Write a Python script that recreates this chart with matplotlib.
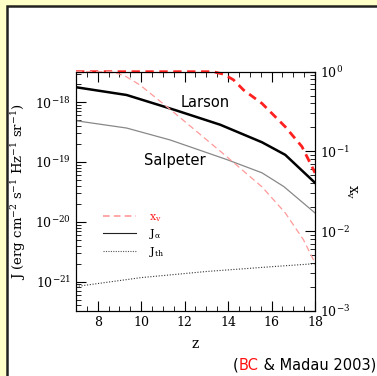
import numpy as np
import matplotlib
matplotlib.use("Agg")
import matplotlib.pyplot as plt
from matplotlib.patches import Rectangle
from matplotlib.ticker import LogLocator, MultipleLocator, NullFormatter

plt.rcParams["font.family"] = "DejaVu Serif"
plt.rcParams["mathtext.fontset"] = "dejavuserif"

# Lyman-alpha background J_alpha (Larson / Salpeter IMF)
z_lar = [7.0, 9.33, 11.56, 13.64, 15.56, 16.63, 18.0]
J_lar = [1.78e-18, 1.32e-18, 7.4e-19, 4.2e-19, 2.14e-19, 1.32e-19, 4.5e-20]
z_sal = [7.0, 9.33, 11.33, 13.94, 15.56, 16.56, 18.0]
J_sal = [4.9e-19, 3.7e-19, 2.34e-19, 1.10e-19, 6.6e-20, 3.9e-20, 1.41e-20]
# thermalization value J_th
z_th = [7.0, 10.0, 13.0, 16.0, 18.0]
J_th = [8.3e-22, 1.17e-21, 1.48e-21, 1.78e-21, 2.0e-21]
# neutral fraction x_v (right axis)
zx_lar = [7.0, 13.3, 13.8, 14.25, 14.71, 15.56, 16.63, 17.4, 18.0]
x_lar = [1.0, 1.0, 0.93, 0.79, 0.59, 0.40, 0.204, 0.115, 0.054]
zx_sal = [7.0, 8.7, 9.3, 9.95, 11.56, 13.94, 15.56, 16.63, 17.47, 18.0]
x_sal = [1.0, 1.0, 0.87, 0.68, 0.30, 0.086, 0.036, 0.017, 0.0078, 0.0040]

fig = plt.figure(figsize=(3.77, 3.76), dpi=100)
fig.patch.set_facecolor("#ffffc8")
fig.patches.append(Rectangle((6.5 / 377, -0.1), 1.2, 1.1 - 5.5 / 376,
                             transform=fig.transFigure, facecolor="white",
                             edgecolor="#222222", lw=1.8, zorder=-10))

ax = fig.add_axes([76 / 377, 1 - 311 / 376, 239 / 377, 239.3 / 376])
ax.set_facecolor("none")
ax2 = ax.twinx()

ax.set_yscale("log")
ax.set_xlim(7, 18)
ax.set_ylim(10 ** -21.49, 10 ** -17.49)
ax2.set_yscale("log")
ax2.set_ylim(1e-3, 1.0)

ax.plot(z_lar, J_lar, color="black", lw=1.8)
ax.plot(z_sal, J_sal, color="#888888", lw=0.9)
ax.plot(z_th, J_th, color="#333333", lw=0.8, ls=(0, (1, 1.5)))
ax2.plot(zx_lar, x_lar, color="#ff2020", lw=2, ls=(0, (3, 2)), clip_on=False)
ax2.plot(zx_sal, x_sal, color="#ff9999", lw=0.9, ls=(0, (5, 3)), clip_on=False)

ax.text(12.94, 1.0e-18, "Larson", family="DejaVu Sans", fontsize=10.5,
        ha="center", va="center")
ax.text(11.56, 1.05e-19, "Salpeter", family="DejaVu Sans", fontsize=10.5,
        ha="center", va="center")

# legend
h1, = ax.plot([], [], color="#ff9999", lw=1.2, ls=(0, (4, 2.5)))
h2, = ax.plot([], [], color="#222222", lw=0.8)
h3, = ax.plot([], [], color="#555555", lw=0.8, ls=(0, (1, 1.2)))
leg = ax.legend([h1, h2, h3], [r"$\mathrm{x_v}$", r"$\mathrm{J_\alpha}$", r"$\mathrm{J_{th}}$"],
                loc="upper left", bbox_to_anchor=(0.07, 0.456), frameon=False,
                handlelength=3.0, labelspacing=0.35, fontsize=8, handletextpad=1.2)
for t, c in zip(leg.get_texts(), ["#ff2020", "black", "black"]):
    t.set_color(c)

for a in (ax, ax2):
    a.tick_params(which="both", direction="in", top=True, labelsize=9)
    a.tick_params(which="major", length=7, width=0.8)
    a.tick_params(which="minor", length=3.5, width=0.6)
ax.tick_params(right=False)
ax2.tick_params(left=False)
ax.xaxis.set_major_locator(MultipleLocator(2))
ax.xaxis.set_minor_locator(MultipleLocator(0.5))
for a in (ax, ax2):
    a.yaxis.set_major_locator(LogLocator(base=10))
    a.yaxis.set_minor_locator(LogLocator(base=10, subs=np.arange(2, 10)))
    a.yaxis.set_minor_formatter(NullFormatter())

ax.set_xlabel("z", fontsize=10, labelpad=6)
ax.set_ylabel(r"J (erg cm$^{-2}$ s$^{-1}$ Hz$^{-1}$ sr$^{-1}$)", fontsize=9.5, labelpad=5)
ax2.set_ylabel(r"$\mathrm{x_v}$", fontsize=10, rotation=-90, labelpad=6)

# citation with coloured initials
fig.canvas.draw()
r = fig.canvas.get_renderer()
parts = [("(", "black"), ("BC", "#ff1010"), (" & Madau 2003)", "black")]
x = 233 / 377
for s, c in parts:
    t = fig.text(x, 1 - 370 / 376, s, color=c, family="DejaVu Sans", fontsize=10.5,
                 ha="left", va="baseline")
    bb = t.get_window_extent(renderer=r)
    x += bb.width / fig.bbox.width

fig.savefig("out.png", dpi=100, facecolor=fig.get_facecolor())
